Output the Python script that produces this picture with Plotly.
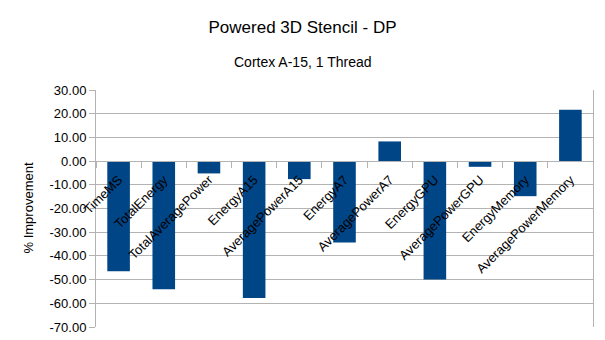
import plotly.graph_objects as go

categories = ["TimeMS", "TotalEnergy", "TotalAveragePower", "EnergyA15", "AveragePowerA15",
              "EnergyA7", "AveragePowerA7", "EnergyGPU", "AveragePowerGPU", "EnergyMemory",
              "AveragePowerMemory"]
values = [-46.5, -54.1, -5.2, -57.8, -7.6, -34.3, 8.3, -50.0, -2.4, -14.8, 21.7]
y_ticks = [30, 20, 10, 0, -10, -20, -30, -40, -50, -60, -70]

FONT = "Liberation Sans, Arial, sans-serif"
GRID = "#b3b3b3"
W, H = 605, 340
L, R, T, B = 96, 12, 90, 13

fig = go.Figure(go.Bar(x=categories, y=values, marker=dict(color="#004586", line=dict(width=0)),
                       width=0.5))

ymin, ymax = -70, 30
plot_w = W - L - R
plot_h = H - T - B
fig.update_layout(
    width=W, height=H,
    margin=dict(l=L, r=R, t=T, b=B),
    paper_bgcolor="white", plot_bgcolor="white",
    font=dict(family=FONT, size=13, color="black"),
    title=dict(text="Powered 3D Stencil - DP", x=0.5, xanchor="center", y=1 - 27 / H, yanchor="middle",
               font=dict(size=17, family=FONT)),
    annotations=[
        dict(text="Cortex A-15, 1 Thread", x=(W / 2 - L) / plot_w, xref="paper", xanchor="center",
             y=(H - B - 62) / plot_h, yref="paper", yanchor="middle", showarrow=False,
             font=dict(size=14, family=FONT)),
        dict(text="% Improvement", x=(28 - L) / plot_w, xref="paper", xanchor="center",
             y=0.5, yref="paper", yanchor="middle", showarrow=False, textangle=-90,
             font=dict(size=13, family=FONT)),
    ],
    showlegend=False,
)

fig.update_yaxes(range=[ymin, ymax], tickvals=y_ticks, ticktext=[f"{v:.2f}" for v in y_ticks],
                 showgrid=True, gridcolor=GRID, gridwidth=1, zeroline=True, zerolinecolor=GRID,
                 zerolinewidth=1, showline=True, linecolor=GRID, mirror=True,
                 ticks="outside", ticklen=6, tickcolor=GRID,
                 tickfont=dict(size=13), automargin=False)
fig.update_xaxes(anchor="free", position=(0 - ymin) / (ymax - ymin), showline=True, linecolor=GRID,
                 tickangle=-45, ticks="outside", ticklen=6, tickcolor=GRID, tickson="boundaries",
                 ticklabelstandoff=5,
                 tickfont=dict(size=13), showgrid=False, automargin=False)

fig.write_html("out.html")
